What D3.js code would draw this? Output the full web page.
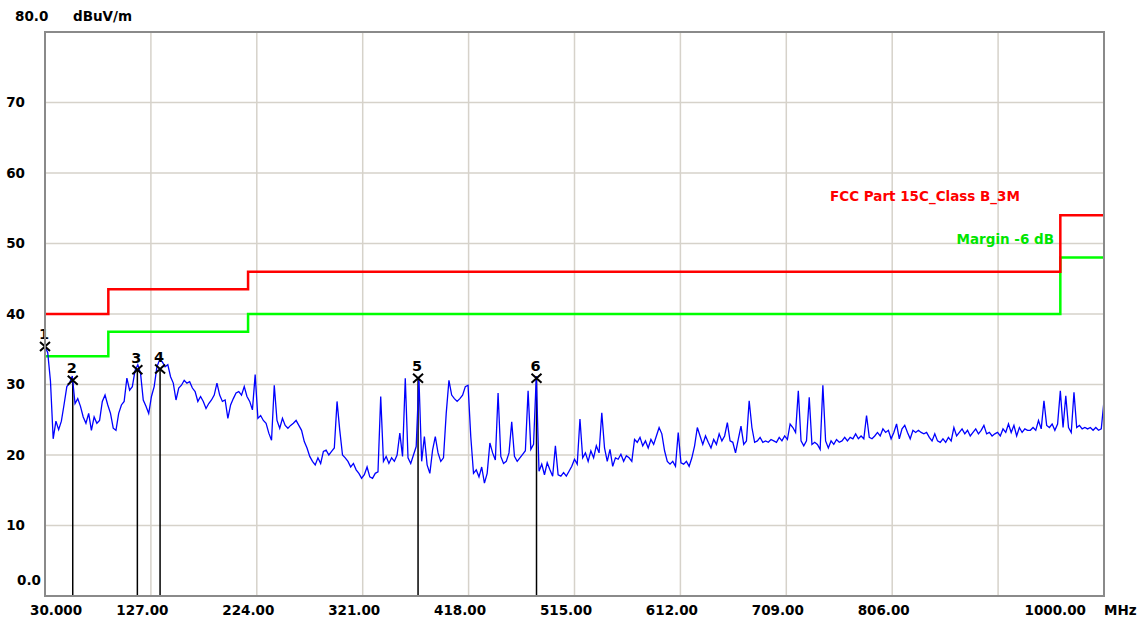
<!DOCTYPE html>
<html>
<head>
<meta charset="utf-8">
<script src="https://cdn.jsdelivr.net/npm/d3@7"></script>
<style>
  body { margin: 0; background: #fff; }
  text { font-family: "DejaVu Sans", sans-serif; font-weight: bold; font-size: 13.5px; }
</style>
</head>
<body>
<div id="chart"></div>
<script>
// sweep: 30 MHz start, 2.5 MHz per point (dBuV/m)
var sweepStart = 30;
var sweepStep = 2.5;
var traceLevels = [
  35.4, 34.5, 30.5, 22.3, 24.8, 23.6, 24.8, 27.2, 29.7, 30.2,
  31.2, 27.3, 28.0, 26.9, 25.4, 24.5, 25.9, 23.5, 25.4, 24.5,
  24.9, 27.6, 28.5, 27.1, 25.9, 23.8, 23.5, 25.9, 27.1, 27.6,
  30.9, 29.2, 29.7, 32.0, 32.8, 31.6, 27.8, 26.9, 25.9, 28.3,
  29.7, 32.5, 33.5, 33.2, 32.5, 32.8, 31.1, 30.2, 27.8, 29.5,
  29.9, 30.6, 30.2, 30.4, 29.5, 29.0, 27.6, 28.3, 27.6, 26.6,
  27.3, 27.8, 28.5, 30.2, 28.5, 27.6, 27.8, 25.2, 27.1, 28.0,
  28.8, 29.0, 28.5, 29.7, 28.3, 27.6, 26.4, 31.4, 25.2, 25.6,
  24.9, 24.5, 23.1, 22.1, 29.9, 24.9, 23.8, 25.2,
  24.2, 23.8, 24.2, 24.5, 24.9, 24.2, 23.5, 21.9, 21.0, 19.8,
  19.1, 18.6, 19.6, 18.8, 20.5, 20.7, 20.0, 20.5, 21.0, 27.6,
  23.5, 20.0, 19.6, 19.1, 18.3, 18.8, 17.9, 17.4, 16.7, 17.2,
  18.3, 16.9, 16.7, 17.4, 17.6, 28.3, 19.1, 19.8, 18.8, 19.6,
  19.1, 20.0, 23.1, 19.8, 30.9, 19.6, 18.8, 20.0, 21.2, 30.9,
  19.1, 22.6, 18.6, 17.4, 20.7, 22.6, 20.3, 19.1, 19.6, 25.9,
  30.6, 28.5, 28.0, 27.6, 28.0, 28.5, 29.7, 29.9, 22.6, 17.4,
  17.9, 16.9, 18.3, 16.0, 17.4, 21.7, 20.3, 19.3, 28.8, 19.8,
  18.8, 19.1, 20.3, 24.7, 19.8, 19.1,
  19.6, 20.1, 20.6, 29.1, 20.8, 21.5, 31.2, 17.7, 18.7, 17.2,
  18.9, 17.9, 17.0, 21.3, 17.2, 17.0, 17.5, 17.0, 17.7, 18.4,
  19.4, 18.7, 25.1, 19.6, 20.3, 19.1, 20.6, 19.6, 21.3, 20.3,
  26.0, 21.0, 19.1, 20.8, 18.4, 19.6, 19.4, 20.1, 19.1, 19.9,
  19.6, 19.1, 22.2, 21.8, 22.5, 21.3, 22.0, 21.0, 22.2, 21.5,
  22.7, 23.9, 23.0, 20.6, 19.1, 18.7, 19.1, 18.4, 23.2, 18.9,
  18.7, 19.1, 18.4, 19.6, 21.3, 23.9, 22.7, 21.5, 22.7, 21.8,
  21.0, 22.2, 21.5, 23.0, 22.0, 22.7, 24.6, 22.0, 21.8, 20.3,
  22.2, 24.1, 21.5, 22.0, 27.7, 23.9, 21.8, 22.0, 22.5, 21.8,
  22.0, 21.8, 22.2, 22.0, 21.8, 22.5, 22.0, 22.7, 22.2, 24.4,
  23.9, 23.2, 29.1, 22.0, 21.3, 22.0, 28.2, 21.5, 21.8,
  21.5, 20.8, 29.9, 22.0, 21.0, 22.0, 21.5, 22.2, 21.8, 22.0, 22.5, 22.0, 22.5,
  22.3, 23.0, 22.3, 22.7, 22.3, 25.6, 22.5, 22.3, 22.7, 23.2,
  22.7, 23.7, 23.2, 23.5, 22.3, 23.2, 24.4, 22.3, 23.7, 24.2,
  23.2, 22.3, 23.5, 23.2, 23.5, 23.2, 23.0, 23.2, 22.5, 22.0,
  23.0, 22.0, 21.8, 22.3, 21.8, 22.5, 22.0, 23.9, 22.7, 23.2,
  23.7, 23.0, 23.5, 22.7, 23.2, 23.7, 23.0, 23.5, 24.2, 23.0,
  23.2, 22.7, 23.0, 23.2, 22.7, 23.7, 23.2, 24.4, 23.2, 24.2,
  22.7, 23.9, 23.2, 23.7, 23.5, 23.5, 23.9, 23.5, 24.9, 23.7,
  27.7, 24.2, 23.9, 24.4, 23.5, 24.4, 29.1, 23.9, 28.4, 23.9,
  23.2, 28.9, 23.9, 24.2, 23.7, 23.9, 23.7, 23.9, 23.5, 23.9,
  23.5, 23.7, 27.7
];

// limit line (FCC Part 15C Class B, 3 m) breakpoints
var limitFreqs = [30, 88, 216, 960, 1000];
var limitLevels = [40, 43.5, 46, 54, 54];
var marginDb = 6;

// peak markers
var markerIds = ["1", "2", "3", "4", "5", "6"];
var markerFreqs = [30, 55.4, 114.6, 135.4, 371.7, 480.2];
var markerLevels = [35.4, 30.6, 32.1, 32.2, 30.9, 30.9];

// axes
var xTickValues = [30, 127, 224, 321, 418, 515, 612, 709, 806, 903, 1000];
var xTickLabels = ["30.000", "127.00", "224.00", "321.00", "418.00", "515.00", "612.00", "709.00", "806.00", "", "1000.00"];
var yTickValues = [10, 20, 30, 40, 50, 60, 70];

var svgWidth = 1143;
var svgHeight = 619;
var plot = { left: 45, right: 1104, top: 32, bottom: 596 };

var svg = d3.select("#chart").append("svg")
    .attr("width", svgWidth)
    .attr("height", svgHeight);

var x = d3.scaleLinear().domain([30, 1000]).range([plot.left, plot.right]);
var y = d3.scaleLinear().domain([0, 80]).range([plot.bottom, plot.top]);

// grid
svg.append("g").selectAll("line.vg")
    .data(xTickValues)
    .enter().append("line")
    .attr("x1", d => x(d)).attr("x2", d => x(d))
    .attr("y1", plot.top).attr("y2", plot.bottom)
    .attr("stroke", "#d6d2ca").attr("stroke-width", 1.5);

svg.append("g").selectAll("line.hg")
    .data(yTickValues)
    .enter().append("line")
    .attr("x1", plot.left).attr("x2", plot.right)
    .attr("y1", d => y(d)).attr("y2", d => y(d))
    .attr("stroke", "#d6d2ca").attr("stroke-width", 1.5);

// y labels
svg.append("g").selectAll("text")
    .data(yTickValues)
    .enter().append("text")
    .attr("x", 25)
    .attr("y", d => y(d))
    .attr("dy", "0.36em")
    .attr("text-anchor", "end")
    .text(d => d);

svg.append("text").attr("x", 15).attr("y", 21).text("80.0");
svg.append("text").attr("x", 73).attr("y", 21).text("dBuV/m");
svg.append("text").attr("x", 41).attr("y", 585).attr("text-anchor", "end").text("0.0");

// x labels (the instrument draws them a bit left of their grid lines)
svg.append("g").selectAll("text")
    .data(xTickValues)
    .enter().append("text")
    .attr("x", function(d, i) {
        if (i === 0) return 30;
        if (i === xTickValues.length - 1) return 1086;
        return x(d) - 8.5;
    })
    .attr("y", 615)
    .attr("text-anchor", function(d, i) {
        if (i === 0) return "start";
        if (i === xTickValues.length - 1) return "end";
        return "middle";
    })
    .text((d, i) => xTickLabels[i]);

svg.append("text").attr("x", 1104).attr("y", 615).text("MHz");

// limit + margin lines
var stepLine = d3.line()
    .x(d => x(d[0]))
    .y(d => y(d[1]))
    .curve(d3.curveStepAfter);

var limitPts = limitFreqs.map((f, i) => [f, limitLevels[i]]);
var marginPts = limitFreqs.map((f, i) => [f, limitLevels[i] - marginDb]);

svg.append("path")
    .attr("d", stepLine(marginPts))
    .attr("fill", "none")
    .attr("stroke", "#00ff00")
    .attr("stroke-width", 2.5);

svg.append("path")
    .attr("d", stepLine(limitPts))
    .attr("fill", "none")
    .attr("stroke", "#ff0000")
    .attr("stroke-width", 2.5);

svg.append("text").attr("x", 830).attr("y", 201).attr("fill", "#ff0000")
    .text("FCC Part 15C_Class B_3M");
svg.append("text").attr("x", 1054).attr("y", 244).attr("fill", "#00e600")
    .attr("text-anchor", "end")
    .text("Margin -6 dB");

// marker drop lines (behind the trace)
svg.append("g").selectAll("line")
    .data(markerFreqs)
    .enter().append("line")
    .attr("x1", d => x(d)).attr("x2", d => x(d))
    .attr("y1", (d, i) => y(markerLevels[i]))
    .attr("y2", plot.bottom)
    .attr("stroke", "#000").attr("stroke-width", 1.5);

// trace
var trace = d3.line()
    .x((d, i) => x(sweepStart + i * sweepStep))
    .y(d => y(d));

svg.append("path")
    .attr("d", trace(traceLevels))
    .attr("fill", "none")
    .attr("stroke", "#0000ff")
    .attr("stroke-width", 1.3);

// marker crosses + numbers
var marks = svg.append("g").selectAll("g")
    .data(markerFreqs)
    .enter().append("g")
    .attr("transform", (d, i) => `translate(${x(d)}, ${y(markerLevels[i])})`);

marks.append("path")
    .attr("d", "M-5,-4.5L5,4.5M-5,4.5L5,-4.5")
    .attr("stroke", "#000")
    .attr("stroke-width", 2)
    .attr("fill", "none");

marks.append("text")
    .attr("x", -1)
    .attr("y", -7)
    .attr("text-anchor", "middle")
    .attr("fill", "#000")
    .style("font-size", "14.5px")
    .text((d, i) => markerIds[i]);

// frame
svg.append("rect")
    .attr("x", plot.left).attr("y", plot.top)
    .attr("width", plot.right - plot.left)
    .attr("height", plot.bottom - plot.top)
    .attr("fill", "none")
    .attr("stroke", "#8a8a8a")
    .attr("stroke-width", 2);
</script>
</body>
</html>
